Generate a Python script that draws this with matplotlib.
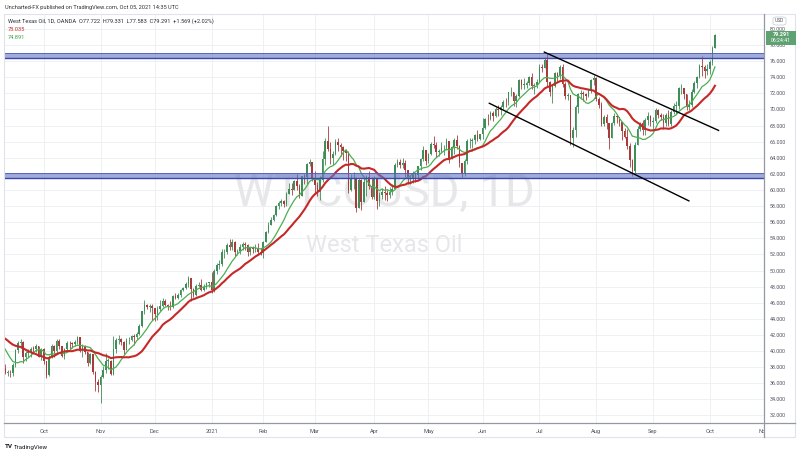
import numpy as np
import pandas as pd
import matplotlib
matplotlib.use("Agg")
import matplotlib.pyplot as plt
from matplotlib.patches import Rectangle, FancyBboxPatch
from matplotlib.transforms import Bbox, TransformedBbox

plt.rcParams['font.family'] = ['Roboto', 'DejaVu Sans']

#-------------------------------------------------------------------
# WTICOUSD daily, 10 Sep 2020 - 05 Oct 2021
# closes before the first visible bar, only used by the moving averages
pre_close = [42.24, 42.01, 42.89, 42.89, 42.93, 42.82, 42.34, 42.62, 43.35, 43.39,
             43.04, 42.97, 42.61, 42.76, 41.51, 41.37, 39.77, 39.50, 36.76, 38.05]

first_open = 37.90

close = [
    # sep 2020
    37.30, 37.33, 37.26, 38.28, 40.16, 40.97, 41.11, 39.31, 39.80, 39.93, 40.31, 40.25, 40.60, 39.29, 40.22,
    # oct
    38.70, 37.05, 39.22, 40.67, 39.95, 41.19, 40.60, 39.43, 40.20, 41.04, 40.96, 40.88, 41.06, 41.70, 40.03,
    40.64, 39.85, 38.56, 39.57, 37.39, 36.17, 35.79,
    # nov
    36.81, 37.66, 38.79, 38.79, 37.14, 40.29, 41.36, 41.45, 41.12, 40.13, 41.34, 41.43, 41.82, 41.74, 42.15,
    43.06, 44.91, 45.71, 45.50, 45.53, 45.34,
    # dec
    44.55, 45.28, 45.64, 46.26, 45.76, 45.60, 45.52, 46.78, 46.57, 46.99, 47.62, 47.82, 48.36, 49.10, 47.74,
    47.02, 48.12, 48.23, 47.62, 48.00, 48.40, 48.52,
    # jan 2021
    47.62, 49.93, 50.63, 50.83, 52.24, 52.25, 53.21, 52.91, 53.57, 52.36, 52.40, 52.98, 53.31, 53.13, 52.27,
    52.77, 52.61, 52.85, 52.34, 52.20,
    # feb
    53.55, 54.76, 55.69, 56.23, 56.85, 57.97, 58.36, 58.68, 58.24, 59.47, 60.10, 60.05, 61.14, 60.52, 59.24,
    61.70, 61.67, 63.22, 63.53, 61.50,
    # mar
    60.64, 59.75, 61.28, 63.83, 66.09, 65.05, 64.01, 64.44, 66.02, 65.61, 65.39, 64.80, 64.60, 60.00, 61.42,
    61.55, 57.76, 61.18, 58.56, 60.97, 61.56, 60.55, 59.16,
    # apr
    61.45, 58.65, 59.33, 59.77, 59.60, 59.32, 59.70, 60.18, 63.15, 63.46, 63.13, 63.38, 62.44, 61.35, 61.43,
    62.14, 61.91, 62.94, 63.86, 65.01, 63.58,
    # may
    64.49, 65.69, 65.63, 64.71, 64.90, 65.28, 65.28, 66.08, 63.82, 65.37, 66.27, 65.49, 63.36, 62.05, 63.58,
    66.05, 66.07, 66.21, 66.85, 66.32, 66.90,
    # jun
    67.72, 68.83, 68.81, 69.62, 69.23, 70.05, 69.96, 70.29, 70.91, 70.88, 72.12, 72.15, 71.04, 71.64, 73.66,
    73.06, 73.08, 73.30, 74.05, 72.91, 72.98, 73.47,
    # jul
    75.23, 75.16, 76.20, 73.37, 72.20, 72.94, 74.56, 74.10, 75.25, 73.13, 71.65, 71.81, 66.42, 67.42, 70.30,
    71.91, 72.07, 71.91, 71.65, 72.39, 73.62, 73.95,
    # aug
    71.26, 70.56, 68.15, 69.09, 68.28, 66.48, 68.29, 69.25, 69.09, 68.44, 67.29, 66.59, 65.46, 63.69, 62.32,
    65.64, 67.54, 68.36, 67.42, 68.74, 69.21, 68.50,
    # sep
    68.59, 69.99, 69.29, 69.10, 68.35, 69.30, 68.14, 69.72, 70.45, 70.46, 72.61, 72.61, 71.97, 70.29, 70.56,
    72.23, 73.30, 73.98, 75.45, 75.29, 74.83, 75.03,
    # oct
    75.88, 77.62, 79.29,
]

high = [
    38.4, 37.7, 37.7, 38.5, 40.3, 41.3, 41.5, 41.2, 40.0, 40.2, 40.5, 40.6, 40.9, 40.6, 40.4,
    40.4, 38.8, 39.5, 40.9, 40.7, 41.5, 41.5, 40.6, 40.4, 41.3, 41.2, 41.1, 41.4, 41.9, 41.6,
    40.9, 40.8, 39.9, 39.8, 39.6, 37.5, 36.5,
    37.0, 38.1, 39.8, 39.1, 38.9, 41.9, 41.6, 42.0, 41.6, 41.2, 41.6, 41.8, 42.0, 42.1, 42.4,
    43.3, 45.0, 46.3, 45.8, 45.8, 45.9,
    45.3, 45.6, 46.3, 46.6, 46.4, 45.9, 46.2, 47.0, 47.2, 47.2, 47.7, 48.0, 48.6, 49.3, 48.9,
    47.8, 48.3, 48.6, 48.9, 48.3, 48.6, 48.6,
    49.8, 50.2, 50.9, 51.3, 52.7, 52.7, 53.4, 53.9, 53.9, 53.7, 52.7, 53.3, 53.6, 53.5, 53.3,
    52.9, 53.1, 53.3, 53.4, 52.8,
    53.7, 54.9, 56.0, 56.6, 57.0, 58.1, 58.6, 58.9, 58.7, 59.8, 60.9, 60.9, 61.2, 62.0, 60.8,
    61.8, 62.0, 63.3, 63.8, 63.4,
    62.3, 61.0, 61.8, 64.8, 66.4, 68.0, 65.9, 64.8, 66.3, 66.4, 65.8, 65.5, 65.1, 64.9, 62.0,
    62.2, 61.6, 61.5, 61.4, 61.5, 61.9, 62.3, 61.6,
    61.7, 61.4, 59.8, 60.3, 60.5, 60.0, 60.4, 60.8, 63.3, 63.8, 63.9, 64.0, 63.7, 62.4, 61.9,
    62.3, 62.1, 63.0, 64.0, 65.5, 65.0,
    64.6, 66.0, 66.7, 65.9, 65.1, 65.9, 65.6, 66.4, 66.0, 65.5, 66.4, 66.8, 65.6, 63.3, 63.9,
    66.3, 66.4, 66.4, 67.0, 67.5, 67.0,
    68.9, 68.9, 69.4, 69.8, 69.8, 70.3, 70.6, 70.5, 71.2, 71.4, 72.2, 72.8, 72.2, 71.9, 73.8,
    73.8, 73.9, 73.5, 74.2, 74.5, 73.3, 73.8,
    75.7, 75.6, 76.5, 77.0, 73.6, 73.1, 74.6, 74.6, 75.5, 75.6, 73.4, 72.1, 71.7, 67.8, 70.5,
    72.0, 72.4, 72.3, 72.1, 72.6, 73.8, 74.3,
    74.0, 71.5, 70.9, 69.3, 69.4, 68.2, 68.5, 69.6, 69.5, 69.1, 68.5, 67.7, 67.6, 65.8, 63.8,
    65.9, 67.9, 68.5, 68.7, 68.9, 69.7, 69.3,
    69.1, 70.2, 70.1, 69.6, 69.4, 69.6, 69.9, 69.9, 70.8, 71.0, 72.8, 73.2, 72.6, 71.9, 71.2,
    72.6, 73.6, 74.1, 75.7, 76.7, 75.5, 75.7,
    76.2, 77.9, 79.33,
]

low = [
    37.1, 36.9, 36.8, 36.9, 38.0, 39.7, 40.4, 38.5, 38.8, 39.3, 39.2, 39.9, 39.9, 39.2, 38.9,
    38.4, 36.6, 36.9, 39.1, 39.3, 39.7, 40.3, 39.2, 39.0, 40.0, 40.3, 40.4, 40.6, 40.9, 39.9,
    39.3, 39.6, 38.2, 38.4, 37.2, 35.0, 34.9,
    33.6, 36.6, 37.3, 37.8, 37.0, 37.0, 39.8, 40.9, 40.7, 39.6, 40.1, 40.9, 41.2, 40.7, 41.5,
    42.0, 43.0, 44.6, 45.2, 44.9, 43.9,
    43.7, 43.8, 45.0, 45.5, 45.6, 45.1, 45.1, 45.3, 46.4, 46.5, 46.7, 47.4, 47.7, 48.0, 46.2,
    46.7, 46.8, 47.9, 47.4, 47.5, 47.7, 47.9,
    47.2, 47.3, 49.6, 50.2, 50.6, 51.5, 52.0, 52.6, 52.6, 51.8, 51.9, 52.0, 52.6, 52.5, 51.8,
    51.9, 52.2, 52.3, 51.9, 51.9,
    51.6, 53.5, 54.6, 55.6, 56.1, 56.8, 57.7, 58.0, 57.9, 58.0, 59.6, 59.4, 60.1, 60.0, 59.0,
    59.2, 60.8, 60.7, 63.0, 61.1,
    59.5, 59.3, 58.8, 61.0, 63.1, 64.9, 63.2, 63.1, 64.3, 64.9, 64.2, 63.7, 63.6, 59.6, 59.9,
    60.1, 57.3, 58.3, 57.5, 59.4, 59.2, 60.1, 58.9,
    58.9, 57.7, 58.0, 58.9, 58.8, 58.6, 59.0, 59.4, 60.1, 62.8, 62.7, 62.7, 61.6, 60.7, 60.8,
    60.9, 61.0, 61.4, 62.5, 63.6, 63.1,
    63.3, 64.3, 65.2, 64.1, 64.2, 64.6, 64.3, 65.0, 63.3, 63.8, 64.5, 65.1, 62.8, 61.6, 61.8,
    63.2, 65.2, 65.2, 65.7, 66.1, 66.2,
    66.3, 67.6, 68.1, 68.7, 68.6, 69.1, 69.2, 69.3, 70.0, 70.3, 70.6, 71.7, 70.4, 70.3, 71.5,
    72.6, 72.5, 72.7, 73.0, 72.6, 71.9, 72.7,
    73.3, 74.6, 75.1, 72.9, 71.7, 70.8, 72.8, 73.6, 73.8, 72.8, 71.3, 71.2, 65.6, 65.3, 66.6,
    69.6, 71.3, 71.1, 71.2, 71.6, 72.1, 73.0,
    71.0, 70.2, 67.9, 67.9, 67.6, 65.1, 66.4, 68.1, 68.3, 67.9, 66.2, 66.4, 65.1, 62.9, 61.7,
    62.1, 65.6, 67.3, 66.8, 66.8, 68.1, 68.0,
    67.6, 68.3, 68.9, 68.7, 67.6, 67.9, 67.9, 68.0, 69.4, 69.5, 70.1, 71.9, 71.3, 69.9, 69.9,
    70.3, 72.0, 72.7, 73.9, 74.1, 73.9, 74.3,
    74.4, 75.5, 77.58,
]

# days without a bar on this feed
no_bar_days = ['2020-12-25', '2021-01-01', '2021-04-02']

# support / resistance zones (low, high)
zone_top = (76.35, 76.97)
zone_low = (61.50, 62.13)

# channel lines drawn on the chart: (bar number, price)
channel_upper = [(208.9, 77.13), (276.4, 67.40)]
channel_lower = [(187.6, 70.77), (264.9, 58.65)]

month_names = {1: '2021', 2: 'Feb', 3: 'Mar', 4: 'Apr', 5: 'May', 6: 'Jun', 7: 'Jul',
               8: 'Aug', 9: 'Sep', 10: 'Oct', 11: 'Nov', 12: 'Dec'}

#-------------------------------------------------------------------
W, H = 800, 455
UP = '#3f8d58'
DN = '#a93a3a'
GRID = '#eef0f4'
AXC = '#9598a1'
TXT = '#50535e'

def fx(px):
    return px / W

def fy(py):
    return 1 - py / H

cal = pd.bdate_range('2020-09-10', '2021-11-30')
cal = cal[~cal.isin(pd.to_datetime(no_bar_days))]

n = len(close)
x = np.arange(n)
c = np.array(close)
o = np.array([first_open] + close[:-1])
hi = np.maximum(np.array(high), np.maximum(o, c))
lo = np.minimum(np.array(low), np.minimum(o, c))

full = pd.Series(pre_close + close)
ma_red = full.rolling(20).mean().values[-n:]
ma_green = full.rolling(10).mean().values[-n:]

fig = plt.figure(figsize=(W / 100, H / 100), dpi=100)
fig.patch.set_facecolor('white')
ax = fig.add_axes([fx(4), fy(423), fx(764) - fx(4), fy(14) - fy(423)])
ax.set_facecolor('white')

ymin, ymax = 31.06, 81.86
ax.set_ylim(ymin, ymax)
ax.set_xlim(-0.4, 293.5)

# grid
yt = np.arange(32, 81, 2)
for v in yt:
    ax.axhline(v, color=GRID, lw=0.7, zorder=0)
mstart = [i for i in range(1, len(cal)) if cal[i].month != cal[i - 1].month]
for i in mstart:
    ax.axvline(i, color=GRID, lw=0.7, zorder=0)

# watermark
ax.text(0.5, 0.56, 'WTICOUSD, 1D', transform=ax.transAxes, ha='center', va='center',
        fontsize=32.5, color='#e7e7e9', zorder=1)
ax.text(0.5, 0.435, 'West Texas Oil', transform=ax.transAxes, ha='center', va='center',
        fontsize=17, color='#e7e7e9', zorder=1)

# candles
col = np.where(c >= o, UP, DN)
ax.vlines(x, lo, hi, colors=col, lw=0.6, zorder=3)
ax.bar(x, np.maximum(np.abs(c - o), 0.07), bottom=np.minimum(o, c), width=0.62,
       color=col, linewidth=0, zorder=4)

# moving averages
ax.plot(x, ma_green, color='#4caf50', lw=0.9, zorder=5)
ax.plot(x, ma_red, color='#c62828', lw=1.5, zorder=5)

# zones
for z0, z1 in (zone_top, zone_low):
    ax.axhspan(z0, z1, facecolor='#6373c6', alpha=0.6, lw=0, zorder=6)
    ax.axhline(z1, color='#4a5cb8', lw=0.6, zorder=6)
    ax.axhline(z0, color='#3949ab', lw=1.0, zorder=6)

# channel
for line in (channel_upper, channel_lower):
    ax.plot([p[0] for p in line], [p[1] for p in line], color='black', lw=1.0, zorder=7)

# axes
for s in ax.spines.values():
    s.set_visible(False)
ax.yaxis.tick_right()
ax.set_yticks(yt)
ax.set_yticklabels(['%.3f' % v for v in yt])
ax.tick_params(axis='y', length=0, pad=4, labelsize=3.9, labelcolor=TXT)
ax.set_xticks(mstart)
ax.set_xticklabels([month_names[cal[i].month] for i in mstart])
ax.tick_params(axis='x', length=0, pad=4.2, labelsize=4.1, labelcolor=TXT)
clip = TransformedBbox(Bbox([[0, 0], [fx(764), 1]]), fig.transFigure)
for lbl in ax.get_xticklabels():
    lbl.set_clip_on(True)
    lbl.set_clip_box(clip)

# frame lines
fig.add_artist(Rectangle((fx(4), fy(437)), fx(795) - fx(4), fy(14) - fy(437), transform=fig.transFigure,
                         fill=False, edgecolor='#e0e3eb', lw=0.8))
fig.add_artist(plt.Line2D([fx(764), fx(764)], [fy(14), fy(437)], transform=fig.transFigure,
                          color=AXC, lw=0.9))
fig.add_artist(plt.Line2D([fx(4), fx(795)], [fy(423), fy(423)], transform=fig.transFigure,
                          color=AXC, lw=0.9))

# last price label
fig.add_artist(Rectangle((fx(766), fy(44.5)), fx(796) - fx(766), fy(31) - fy(44.5), transform=fig.transFigure,
                         facecolor='#5fa272', edgecolor='none'))
fig.text(fx(781), fy(34.5), '79.291', ha='center', va='center', fontsize=3.9, color='white',
         fontweight='bold')
fig.text(fx(781), fy(41), '06:24:41', ha='center', va='center', fontsize=3.7, color='white')
fig.add_artist(FancyBboxPatch((fx(773), fy(25)), fx(786) - fx(773), fy(17) - fy(25),
                              boxstyle='round,pad=0,rounding_size=0.004', transform=fig.transFigure,
                              fill=False, edgecolor='#c5c8cf', lw=0.5))
fig.text(fx(779.5), fy(21), 'USD', ha='center', va='center', fontsize=3.5, color=TXT)

# header texts
fig.text(fx(5), fy(7), 'Uncharted-FX published on TradingView.com, Oct 05, 2021 14:35 UTC',
         ha='left', va='center', fontsize=4.1, color='#333333')
fig.text(fx(8), fy(21), 'West Texas Oil, 1D, OANDA  O77.722  H79.331  L77.583  C79.291  +1.569 (+2.02%)',
         ha='left', va='center', fontsize=4.1, color='#2a2e39')
fig.text(fx(8), fy(29.5), '73.035', ha='left', va='center', fontsize=4.1, color='#c62828')
fig.text(fx(8), fy(37.5), '74.891', ha='left', va='center', fontsize=4.1, color='#43a047')

# footer
fig.text(fx(5), fy(447), 'TV', ha='left', va='center', fontsize=4.6, color='#131722', fontweight='bold')
fig.text(fx(14), fy(447), 'TradingView', ha='left', va='center', fontsize=4.4, color='#131722')

fig.savefig('out.png', dpi=100)
